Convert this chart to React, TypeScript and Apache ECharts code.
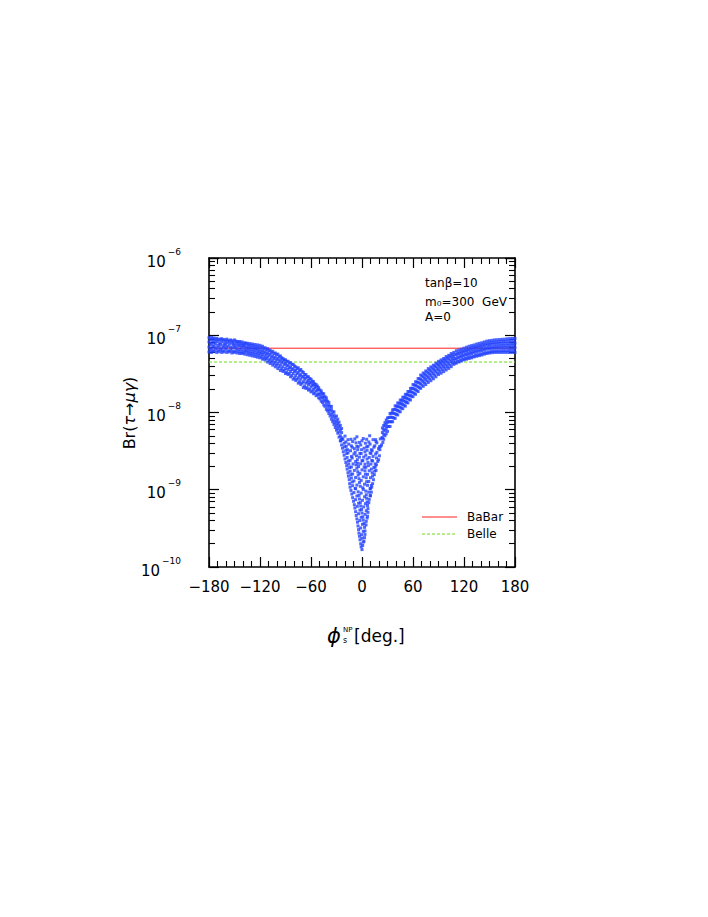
import React, { useEffect, useRef } from 'react';
import * as echarts from 'echarts';

const xTickValues = [-180, -120, -60, 0, 60, 120, 180];
const xTickLabels = ['−180', '−120', '−60', '0', '60', '120', '180'];
const yTickExponents = [-10, -9, -8, -7, -6];
const babarLimit = 6.8e-8;
const belleLimit = 4.5e-8;
const annotations = ['tanβ=10', 'm₀=300  GeV', 'A=0'];
const legendNames = ['BaBar', 'Belle'];

// columns of the left branch: [phi, Br values]
const leftArm: [number, number[]][] = [
  [-180, [6.1e-8, 7.0e-8, 8.2e-8, 9.3e-8]], [-178.5, [6.5e-8, 7.6e-8, 8.8e-8]],
  [-177, [6.0e-8, 6.8e-8, 7.9e-8, 9.4e-8]], [-175.5, [6.3e-8, 7.3e-8, 8.5e-8, 9.0e-8]],
  [-174, [6.2e-8, 7.1e-8, 8.0e-8, 9.2e-8]], [-172.5, [6.6e-8, 7.7e-8, 8.7e-8]],
  [-171, [6.0e-8, 6.9e-8, 8.3e-8, 9.1e-8]], [-169.5, [6.4e-8, 7.4e-8, 8.9e-8]],
  [-168, [6.1e-8, 7.0e-8, 7.9e-8, 8.6e-8]], [-166.5, [6.5e-8, 7.6e-8, 8.9e-8]],
  [-165, [6.0e-8, 6.8e-8, 8.2e-8, 9.0e-8]], [-163.5, [6.3e-8, 7.3e-8, 8.6e-8]],
  [-162, [6.1e-8, 7.0e-8, 7.8e-8, 8.8e-8]], [-160.5, [6.6e-8, 7.5e-8, 8.4e-8]],
  [-159, [6.0e-8, 6.9e-8, 8.0e-8, 8.9e-8]], [-157.5, [6.3e-8, 7.2e-8, 8.6e-8]],
  [-156, [6.1e-8, 7.7e-8, 8.3e-8]], [-154.5, [6.4e-8, 7.0e-8, 8.7e-8]],
  [-153, [5.9e-8, 6.8e-8, 7.9e-8, 8.5e-8]], [-151.5, [6.2e-8, 7.4e-8, 8.2e-8]],
  [-150, [6.0e-8, 6.9e-8, 7.7e-8, 8.7e-8]], [-148.5, [6.3e-8, 7.2e-8, 8.4e-8]],
  [-147, [5.9e-8, 6.7e-8, 7.8e-8, 8.3e-8]], [-145.5, [6.2e-8, 7.3e-8, 8.1e-8]],
  [-144, [5.8e-8, 6.6e-8, 7.5e-8, 8.3e-8]], [-142.5, [6.1e-8, 7.0e-8, 7.9e-8]],
  [-141, [5.8e-8, 6.5e-8, 7.4e-8, 8.2e-8]], [-139.5, [6.0e-8, 7.1e-8, 7.7e-8]],
  [-138, [5.7e-8, 6.4e-8, 7.3e-8, 8.0e-8]], [-136.5, [6.1e-8, 6.8e-8, 7.8e-8]],
  [-135, [5.6e-8, 6.3e-8, 7.1e-8, 7.9e-8]], [-133.5, [5.9e-8, 6.7e-8, 7.5e-8]],
  [-132, [5.5e-8, 6.2e-8, 7.0e-8, 7.8e-8]], [-130.5, [5.8e-8, 6.6e-8, 7.4e-8]],
  [-129, [5.4e-8, 6.1e-8, 6.9e-8, 7.7e-8]], [-127.5, [5.7e-8, 6.5e-8, 7.3e-8]],
  [-126, [5.3e-8, 6.0e-8, 6.8e-8, 7.6e-8]], [-124.5, [5.6e-8, 6.4e-8, 7.1e-8]],
  [-123, [5.2e-8, 5.9e-8, 6.7e-8, 7.5e-8]], [-121.5, [5.5e-8, 6.2e-8, 7.0e-8]],
  [-120, [5.1e-8, 5.8e-8, 6.5e-8, 7.4e-8]], [-118.5, [5.3e-8, 6.0e-8, 6.9e-8]],
  [-117, [4.9e-8, 5.6e-8, 6.3e-8, 7.2e-8]], [-115.5, [5.1e-8, 5.9e-8, 6.7e-8]],
  [-114, [4.8e-8, 5.4e-8, 6.1e-8, 6.9e-8]], [-112.5, [5.0e-8, 5.7e-8, 6.5e-8]],
  [-111, [4.5e-8, 5.2e-8, 5.9e-8, 6.7e-8]], [-109.5, [4.7e-8, 5.5e-8, 6.3e-8]],
  [-108, [4.3e-8, 4.9e-8, 5.7e-8, 6.4e-8]], [-106.5, [4.5e-8, 5.2e-8, 6.0e-8]],
  [-105, [4.1e-8, 4.7e-8, 5.4e-8, 6.2e-8]], [-103.5, [4.3e-8, 5.0e-8, 5.8e-8]],
  [-102, [3.9e-8, 4.5e-8, 5.2e-8, 5.9e-8]], [-100.5, [4.1e-8, 4.8e-8, 5.6e-8]],
  [-99, [3.7e-8, 4.3e-8, 5.0e-8, 5.7e-8]], [-97.5, [3.9e-8, 4.6e-8, 5.3e-8]],
  [-96, [3.5e-8, 4.1e-8, 4.8e-8, 5.4e-8]], [-94.5, [3.7e-8, 4.4e-8, 5.1e-8]],
  [-93, [3.4e-8, 3.9e-8, 4.6e-8, 5.0e-8]], [-91.5, [3.5e-8, 4.2e-8, 4.8e-8]],
  [-90, [3.2e-8, 3.7e-8, 4.3e-8, 4.8e-8]], [-88.5, [3.3e-8, 4.0e-8, 4.6e-8]],
  [-87, [3.1e-8, 3.6e-8, 4.1e-8, 4.6e-8]], [-85.5, [3.2e-8, 3.8e-8, 4.4e-8]],
  [-84, [2.9e-8, 3.4e-8, 3.9e-8, 4.4e-8]], [-82.5, [3.0e-8, 3.6e-8, 4.2e-8]],
  [-81, [2.7e-8, 3.2e-8, 3.7e-8, 4.2e-8]], [-79.5, [2.8e-8, 3.4e-8, 4.0e-8]],
  [-78, [2.6e-8, 3.0e-8, 3.5e-8, 3.9e-8]], [-76.5, [2.7e-8, 3.2e-8, 3.7e-8]],
  [-75, [2.4e-8, 2.8e-8, 3.3e-8, 3.8e-8]], [-73.5, [2.5e-8, 3.0e-8, 3.5e-8]],
  [-72, [2.3e-8, 2.7e-8, 3.1e-8, 3.6e-8]], [-70.5, [2.4e-8, 2.9e-8, 3.4e-8]],
  [-69, [2.1e-8, 2.5e-8, 2.9e-8, 3.3e-8]], [-67.5, [2.2e-8, 2.7e-8, 3.1e-8]],
  [-66, [2.05e-8, 2.4e-8, 2.8e-8, 3.1e-8]], [-64.5, [2.1e-8, 2.5e-8, 2.9e-8]],
  [-63, [1.95e-8, 2.3e-8, 2.6e-8, 2.9e-8]], [-61.5, [2.0e-8, 2.4e-8, 2.75e-8]],
  [-60, [1.85e-8, 2.15e-8, 2.45e-8, 2.7e-8]], [-58.5, [1.9e-8, 2.25e-8, 2.55e-8]],
  [-57, [1.75e-8, 2.0e-8, 2.3e-8, 2.5e-8]], [-55.5, [1.8e-8, 2.1e-8, 2.35e-8]],
  [-54, [1.65e-8, 1.9e-8, 2.15e-8, 2.3e-8]], [-52.5, [1.7e-8, 1.95e-8, 2.2e-8]],
  [-51, [1.55e-8, 1.75e-8, 2.0e-8, 2.1e-8]], [-49.5, [1.5e-8, 1.7e-8, 1.95e-8]],
  [-48, [1.4e-8, 1.6e-8, 1.8e-8, 1.9e-8]], [-46.5, [1.35e-8, 1.55e-8, 1.75e-8]],
  [-45, [1.25e-8, 1.45e-8, 1.6e-8, 1.75e-8]], [-43.5, [1.2e-8, 1.4e-8, 1.6e-8]],
  [-42, [1.1e-8, 1.3e-8, 1.45e-8, 1.55e-8]], [-40.5, [1.05e-8, 1.2e-8, 1.4e-8]],
  [-39, [9.7e-9, 1.1e-8, 1.25e-8, 1.35e-8]], [-37.5, [9.0e-9, 1.05e-8, 1.2e-8]],
  [-36, [8.2e-9, 9.5e-9, 1.1e-8, 1.2e-8]], [-34.5, [7.6e-9, 8.8e-9, 1.02e-8]],
  [-33, [7.0e-9, 8.0e-9, 9.3e-9, 1.02e-8]], [-31.5, [6.4e-9, 7.4e-9, 8.6e-9]],
  [-30, [5.9e-9, 6.8e-9, 7.8e-9, 9.0e-9]], [-28.5, [5.4e-9, 6.2e-9, 7.2e-9, 8.2e-9]],
  [-27, [4.8e-9, 5.6e-9, 6.6e-9, 7.5e-9]], [-25.5, [4.3e-9, 5.0e-9, 6.0e-9, 6.8e-9]],
  [-24, [4.5e-9, 5.5e-9, 6.2e-9]],
];

// columns of the right branch: [phi, Br values]
const rightArm: [number, number[]][] = [
  [24, [4.7e-9, 5.5e-9, 6.3e-9]], [25.5, [4.5e-9, 5.2e-9, 6.0e-9, 6.8e-9]],
  [27, [5.0e-9, 5.8e-9, 6.7e-9, 7.4e-9]], [28.5, [5.3e-9, 6.2e-9, 7.1e-9, 8.0e-9]],
  [30, [5.7e-9, 6.6e-9, 7.5e-9, 8.5e-9]], [31.5, [6.6e-9, 7.6e-9, 8.6e-9]],
  [33, [6.6e-9, 7.6e-9, 8.7e-9, 9.7e-9]], [34.5, [7.6e-9, 8.7e-9, 9.8e-9]],
  [36, [7.6e-9, 8.6e-9, 9.9e-9, 1.08e-8]], [37.5, [8.5e-9, 9.75e-9, 1.095e-8]],
  [39, [8.4e-9, 9.6e-9, 1.1e-8, 1.22e-8]], [40.5, [9.45e-9, 1.08e-8, 1.21e-8]],
  [42, [9.3e-9, 1.06e-8, 1.2e-8, 1.33e-8]], [43.5, [1.04e-8, 1.185e-8, 1.32e-8]],
  [45, [1.02e-8, 1.17e-8, 1.32e-8, 1.45e-8]], [46.5, [1.14e-8, 1.3e-8, 1.445e-8]],
  [48, [1.12e-8, 1.27e-8, 1.44e-8, 1.58e-8]], [49.5, [1.24e-8, 1.41e-8, 1.57e-8]],
  [51, [1.21e-8, 1.38e-8, 1.56e-8, 1.72e-8]], [52.5, [1.35e-8, 1.53e-8, 1.71e-8]],
  [54, [1.33e-8, 1.5e-8, 1.7e-8, 1.87e-8]], [55.5, [1.48e-8, 1.67e-8, 1.87e-8]],
  [57, [1.45e-8, 1.65e-8, 1.86e-8, 2.05e-8]], [58.5, [1.62e-8, 1.84e-8, 2.06e-8]],
  [60, [1.6e-8, 1.8e-8, 2.05e-8, 2.3e-8]], [61.5, [1.77e-8, 2.01e-8, 2.27e-8]],
  [63, [1.72e-8, 1.97e-8, 2.25e-8, 2.5e-8]], [64.5, [1.92e-8, 2.2e-8, 2.48e-8]],
  [66, [1.87e-8, 2.15e-8, 2.45e-8, 2.75e-8]], [67.5, [2.1e-8, 2.41e-8, 2.73e-8]],
  [69, [2.05e-8, 2.35e-8, 2.7e-8, 3.05e-8]], [70.5, [2.27e-8, 2.61e-8, 2.97e-8]],
  [72, [2.18e-8, 2.52e-8, 2.9e-8, 3.25e-8]], [73.5, [2.41e-8, 2.78e-8, 3.16e-8]],
  [75, [2.3e-8, 2.68e-8, 3.05e-8, 3.45e-8]], [76.5, [2.56e-8, 2.95e-8, 3.36e-8]],
  [78, [2.45e-8, 2.85e-8, 3.25e-8, 3.7e-8]], [79.5, [2.72e-8, 3.14e-8, 3.57e-8]],
  [81, [2.58e-8, 3.02e-8, 3.45e-8, 3.9e-8]], [82.5, [2.87e-8, 3.32e-8, 3.77e-8]],
  [84, [2.73e-8, 3.18e-8, 3.65e-8, 4.1e-8]], [85.5, [3.04e-8, 3.51e-8, 3.99e-8]],
  [87, [2.9e-8, 3.38e-8, 3.88e-8, 4.35e-8]], [88.5, [3.23e-8, 3.72e-8, 4.23e-8]],
  [90, [3.1e-8, 3.57e-8, 4.1e-8, 4.6e-8]], [91.5, [3.4e-8, 3.92e-8, 4.44e-8]],
  [93, [3.22e-8, 3.75e-8, 4.3e-8, 4.8e-8]], [94.5, [3.56e-8, 4.11e-8, 4.64e-8]],
  [96, [3.38e-8, 3.92e-8, 4.5e-8, 5.0e-8]], [97.5, [3.73e-8, 4.29e-8, 4.87e-8]],
  [99, [3.55e-8, 4.1e-8, 4.7e-8, 5.3e-8]], [100.5, [3.91e-8, 4.5e-8, 5.1e-8]],
  [102, [3.72e-8, 4.3e-8, 4.95e-8, 5.5e-8]], [103.5, [4.11e-8, 4.74e-8, 5.36e-8]],
  [105, [3.92e-8, 4.55e-8, 5.2e-8, 5.8e-8]], [106.5, [4.34e-8, 4.93e-8, 5.57e-8]],
  [108, [4.2e-8, 4.7e-8, 5.3e-8, 6.0e-8]], [109.5, [4.4e-8, 5.0e-8, 5.7e-8]],
  [111, [4.35e-8, 4.9e-8, 5.6e-8, 6.3e-8]], [112.5, [4.6e-8, 5.2e-8, 5.9e-8]],
  [114, [4.5e-8, 5.1e-8, 5.75e-8, 6.45e-8]], [115.5, [4.75e-8, 5.4e-8, 6.1e-8]],
  [117, [4.65e-8, 5.25e-8, 5.9e-8, 6.6e-8]], [118.5, [4.9e-8, 5.55e-8, 6.25e-8]],
  [120, [4.8e-8, 5.4e-8, 6.1e-8, 6.8e-8]], [121.5, [5.0e-8, 5.7e-8, 6.4e-8]],
  [123, [4.9e-8, 5.55e-8, 6.25e-8, 7.0e-8]], [124.5, [5.15e-8, 5.85e-8, 6.6e-8]],
  [126, [5.0e-8, 5.65e-8, 6.4e-8, 7.2e-8]], [127.5, [5.25e-8, 6.0e-8, 6.8e-8]],
  [129, [5.1e-8, 5.8e-8, 6.55e-8, 7.35e-8]], [130.5, [5.35e-8, 6.15e-8, 6.95e-8]],
  [132, [5.25e-8, 5.95e-8, 6.7e-8, 7.5e-8]], [133.5, [5.5e-8, 6.3e-8, 7.1e-8]],
  [135, [5.35e-8, 6.05e-8, 6.85e-8, 7.7e-8]], [136.5, [5.6e-8, 6.4e-8, 7.25e-8]],
  [138, [5.45e-8, 6.2e-8, 7.0e-8, 7.85e-8]], [139.5, [5.7e-8, 6.55e-8, 7.4e-8]],
  [141, [5.55e-8, 6.3e-8, 7.1e-8, 8.0e-8]], [142.5, [5.85e-8, 6.7e-8, 7.6e-8]],
  [144, [5.7e-8, 6.45e-8, 7.3e-8, 8.2e-8]], [145.5, [5.95e-8, 6.8e-8, 7.75e-8]],
  [147, [5.8e-8, 6.6e-8, 7.45e-8, 8.4e-8]], [148.5, [6.05e-8, 6.95e-8, 7.9e-8]],
  [150, [5.9e-8, 6.7e-8, 7.55e-8, 8.5e-8]], [151.5, [6.15e-8, 7.05e-8, 8.0e-8]],
  [153, [5.95e-8, 6.75e-8, 7.65e-8, 8.6e-8]], [154.5, [6.2e-8, 7.1e-8, 8.1e-8]],
  [156, [6.0e-8, 6.8e-8, 7.7e-8, 8.7e-8]], [157.5, [6.25e-8, 7.15e-8, 8.15e-8]],
  [159, [6.0e-8, 6.8e-8, 7.75e-8, 8.75e-8]], [160.5, [6.25e-8, 7.2e-8, 8.2e-8]],
  [162, [6.0e-8, 6.85e-8, 7.8e-8, 8.8e-8]], [163.5, [6.3e-8, 7.25e-8, 8.3e-8]],
  [165, [6.0e-8, 6.85e-8, 7.8e-8, 8.85e-8]], [166.5, [6.3e-8, 7.3e-8, 8.3e-8]],
  [168, [6.0e-8, 6.85e-8, 7.85e-8, 8.9e-8]], [169.5, [6.3e-8, 7.3e-8, 8.35e-8]],
  [171, [6.0e-8, 6.9e-8, 7.85e-8, 9.0e-8]], [172.5, [6.35e-8, 7.35e-8, 8.4e-8]],
  [174, [6.0e-8, 6.9e-8, 7.9e-8, 9.05e-8]], [175.5, [6.4e-8, 7.4e-8, 8.5e-8]],
  [177, [6.0e-8, 6.9e-8, 7.9e-8, 9.1e-8]], [178.5, [6.4e-8, 7.4e-8, 8.5e-8]],
  [180, [6.0e-8, 6.9e-8, 7.9e-8, 9.1e-8]],
];

// points of the central dip: [phi, Br]
const centralDip: [number, number][] = [
  [-23.5, 4.7e-9], [-20, 4.95e-9], [-13, 4.5e-9], [-6, 4.85e-9], [1.5, 4.6e-9], [9, 5.0e-9], [16, 4.45e-9], [23.5, 4.7e-9],
  [-25, 4.3e-9], [-22.5, 4.5e-9], [-19, 4.15e-9], [-16.5, 4.45e-9], [-11, 4.2e-9], [-8.5, 4.55e-9], [-3, 4.1e-9],
  [0, 4.3e-9], [5.5, 4.5e-9], [8, 4.15e-9], [13, 4.45e-9], [16.5, 4.2e-9], [21.5, 4.55e-9], [24.5, 4.1e-9],
  [-24, 3.8e-9], [-21, 4.0e-9], [-18.5, 3.65e-9], [-15.5, 3.9e-9], [-12.5, 3.7e-9], [-7, 4.05e-9], [-4.5, 3.6e-9],
  [-1.5, 3.8e-9], [4, 4.0e-9], [7, 3.65e-9], [9.5, 3.9e-9], [15, 3.7e-9], [17.5, 4.05e-9], [20.5, 3.6e-9], [23, 3.8e-9],
  [-23, 3.45e-9], [-20.5, 3.6e-9], [-17, 3.3e-9], [-11.5, 3.55e-9], [-9, 3.4e-9], [-6, 3.65e-9], [-0.5, 3.3e-9],
  [2.5, 3.45e-9], [5.5, 3.6e-9], [11, 3.3e-9], [14, 3.55e-9], [19.5, 3.4e-9], [22, 3.65e-9],
  [-22, 3.1e-9], [-19, 3.25e-9], [-16.5, 3.0e-9], [-13.5, 3.2e-9], [-8, 3.05e-9], [-5, 3.3e-9], [-2.5, 2.95e-9],
  [3.5, 3.1e-9], [6, 3.25e-9], [9.5, 3.0e-9], [12, 3.2e-9], [17.5, 3.05e-9], [21, 3.3e-9],
  [-21, 2.8e-9], [-18, 2.95e-9], [-12.5, 2.7e-9], [-9.5, 2.9e-9], [-6.5, 2.75e-9], [-1, 2.95e-9], [2, 2.65e-9],
  [4.5, 2.8e-9], [10.5, 2.95e-9], [13, 2.7e-9], [16, 2.9e-9], [20.5, 2.75e-9],
  [-20, 2.5e-9], [-17.5, 2.62e-9], [-14, 2.4e-9], [-11.5, 2.58e-9], [-5.5, 2.45e-9], [-3, 2.65e-9], [0, 2.38e-9],
  [6, 2.5e-9], [8.5, 2.62e-9], [11.5, 2.4e-9], [17, 2.58e-9], [19.5, 2.45e-9],
  [-19, 2.25e-9], [-16, 2.36e-9], [-10.5, 2.16e-9], [-7.5, 2.32e-9], [-5, 2.2e-9], [1, 2.38e-9], [3.5, 2.14e-9],
  [7, 2.25e-9], [12.5, 2.36e-9], [15.5, 2.16e-9], [18.5, 2.32e-9],
  [-18, 2.05e-9], [-15.5, 2.15e-9], [-12.5, 1.97e-9], [-7, 2.1e-9], [-4, 2.0e-9], [-1.5, 2.17e-9], [4.5, 1.95e-9],
  [7.5, 2.05e-9], [10.5, 2.15e-9], [15.5, 1.97e-9], [17, 2.1e-9],
  [-17.5, 1.85e-9], [-14.5, 1.94e-9], [-9, 1.78e-9], [-6, 1.9e-9], [0, 1.81e-9], [2.5, 1.96e-9], [8.5, 1.76e-9],
  [11, 1.85e-9], [14, 1.94e-9], [16.5, 1.78e-9],
  [-16.5, 1.66e-9], [-14, 1.74e-9], [-11, 1.6e-9], [-5, 1.71e-9], [-2.5, 1.63e-9], [3.5, 1.76e-9], [6.5, 1.58e-9],
  [12, 1.66e-9], [15, 1.74e-9],
  [-16, 1.5e-9], [-13, 1.57e-9], [-7.5, 1.44e-9], [-4.5, 1.55e-9], [1.5, 1.47e-9], [4, 1.59e-9], [10, 1.43e-9],
  [12.5, 1.5e-9], [14.5, 1.57e-9],
  [-15, 1.35e-9], [-12.5, 1.42e-9], [-9.5, 1.3e-9], [-3.5, 1.39e-9], [-1, 1.32e-9], [5, 1.43e-9], [8, 1.28e-9], [13.5, 1.35e-9],
  [-14.5, 1.2e-9], [-11.5, 1.26e-9], [-6, 1.15e-9], [-3, 1.24e-9], [3, 1.18e-9], [5.5, 1.27e-9], [11, 1.14e-9], [12.5, 1.2e-9],
  [-14, 1.08e-9], [-11, 1.13e-9], [-8, 1.04e-9], [-2, 1.11e-9], [1, 1.06e-9], [6.5, 1.14e-9], [9.5, 1.03e-9], [11.5, 1.08e-9],
  [-13, 9.8e-10], [-7.5, 1.03e-9], [-4.5, 9.4e-10], [1.5, 1.01e-9], [4.5, 9.6e-10], [10, 1.04e-9], [11, 9.3e-10],
  [-12, 8.8e-10], [-9.5, 9.2e-10], [-3.5, 8.45e-10], [-1, 9.05e-10], [5, 8.6e-10], [8, 9.3e-10], [10, 8.35e-10],
  [-11, 7.9e-10], [-6, 8.3e-10], [-3, 7.6e-10], [3, 8.1e-10], [5.5, 7.75e-10], [9.5, 8.4e-10],
  [-10, 7.1e-10], [-7.5, 7.45e-10], [-2, 6.8e-10], [0.5, 7.3e-10], [6, 6.95e-10], [8.5, 7.5e-10],
  [-9, 6.4e-10], [-4, 6.7e-10], [-1.5, 6.15e-10], [4, 6.6e-10], [6.5, 6.25e-10], [8, 6.8e-10],
  [-8.3, 5.8e-10], [-5.5, 6.1e-10], [-0.5, 5.55e-10], [2, 6.0e-10], [7, 5.7e-10],
  [-7.5, 5.2e-10], [-2.5, 5.45e-10], [0, 5.0e-10], [5, 5.35e-10], [7, 5.1e-10],
  [-6.8, 4.65e-10], [-4, 4.9e-10], [1, 4.45e-10], [3.5, 4.8e-10], [6.5, 4.55e-10],
  [-6, 4.2e-10], [-1, 4.4e-10], [1.5, 4.05e-10], [6, 4.3e-10],
  [-5.3, 3.8e-10], [-2.5, 4.0e-10], [2.5, 3.65e-10], [5, 3.9e-10],
  [-4.7, 3.4e-10], [0.5, 3.57e-10], [3, 3.26e-10], [4.7, 3.5e-10],
  [-4, 3.05e-10], [-1.5, 3.2e-10], [3.5, 2.93e-10],
  [-3.6, 2.75e-10], [1.5, 2.89e-10], [3.5, 2.64e-10],
  [-3, 2.5e-10], [-0.5, 2.62e-10], [3, 2.4e-10],
  [-2.3, 2.25e-10], [0, 2.36e-10], [2.3, 2.16e-10],
  [-1.5, 2.0e-10], [1.6, 2.1e-10],
  [-1, 1.82e-10], [0.8, 1.9e-10],
  [0, 1.68e-10],
];

const FONT = 'DejaVu Sans';

export default function App() {
  const ref = useRef<HTMLDivElement>(null);
  useEffect(() => {
    const chart = echarts.init(ref.current!, null, { renderer: 'svg' });
    const points: number[][] = [
      ...leftArm.flatMap(([p, bs]) => bs.map((b) => [p, b])),
      ...centralDip.map(([p, b]) => [p, b]),
      ...rightArm.flatMap(([p, bs]) => bs.map((b) => [p, b])),
    ];
    const axisLine = { show: true, onZero: false, lineStyle: { color: '#000', width: 1.6 } };
    const axisTick = { show: true, inside: true, length: 10, lineStyle: { color: '#000', width: 1.2 } };
    const minorX = { show: true, splitNumber: 6, length: 6, lineStyle: { color: '#000', width: 1.1 } };
    const minorY = { show: true, splitNumber: 9, length: 6, lineStyle: { color: '#000', width: 1.1 } };
    const xBase = { type: 'value', min: -180, max: 180, interval: 60, splitLine: { show: false }, axisLine, axisTick, minorTick: minorX };
    const yBase = { type: 'log', logBase: 10, min: 1e-10, max: 1e-6, splitLine: { show: false }, axisLine, axisTick, minorTick: minorY };
    const legendX1 = 422, legendX2 = 457, legendTextX = 467;
    chart.setOption({
      animation: false,
      backgroundColor: '#fff',
      grid: { left: 209, top: 258, width: 306, height: 309, containLabel: false },
      xAxis: [
        {
          ...xBase, position: 'bottom',
          axisLabel: {
            show: true, margin: 12, color: '#000', fontFamily: FONT, fontSize: 15,
            formatter: (v: number) => { const i = xTickValues.indexOf(v); return i >= 0 ? xTickLabels[i] : ''; },
          },
        },
        { ...xBase, position: 'top', axisLabel: { show: false } },
      ],
      yAxis: [
        {
          ...yBase, position: 'left',
          axisLabel: {
            show: true, margin: 28, color: '#000', fontFamily: FONT,
            formatter: (v: number) => {
              const e = Math.round(Math.log10(v));
              if (!yTickExponents.includes(e)) return '';
              return `{b|10}{s|−${-e}}`;
            },
            rich: {
              b: { fontSize: 15, fontFamily: FONT, color: '#000', lineHeight: 22, verticalAlign: 'bottom' },
              s: { fontSize: 9, fontFamily: FONT, color: '#000', lineHeight: 12, verticalAlign: 'top', padding: [0, 0, 0, 2] },
            },
          },
        },
        { ...yBase, position: 'right', axisLabel: { show: false } },
      ],
      series: [
        {
          type: 'line', name: 'BaBar', xAxisIndex: 0, yAxisIndex: 0, z: 1,
          data: [[-180, babarLimit], [180, babarLimit]], showSymbol: false, symbol: 'none',
          lineStyle: { color: '#ff2020', width: 1 },
        },
        {
          type: 'line', name: 'Belle', xAxisIndex: 0, yAxisIndex: 0, z: 1,
          data: [[-180, belleLimit], [180, belleLimit]], showSymbol: false, symbol: 'none',
          lineStyle: { color: '#6fdc1a', width: 1, type: [3, 2] },
        },
        {
          type: 'scatter', xAxisIndex: 0, yAxisIndex: 0, z: 3,
          data: points,
          symbol: 'rect', symbolSize: 3,
          itemStyle: { color: '#2342ff' },
        },
      ],
      graphic: [
        { type: 'text', x: 425, y: 283, style: { text: annotations[0], fontFamily: FONT, fontSize: 12, fill: '#000', textVerticalAlign: 'middle' } },
        { type: 'text', x: 425, y: 302, style: { text: annotations[1], fontFamily: FONT, fontSize: 12, fill: '#000', textVerticalAlign: 'middle' } },
        { type: 'text', x: 425, y: 317, style: { text: annotations[2], fontFamily: FONT, fontSize: 12, fill: '#000', textVerticalAlign: 'middle' } },
        { type: 'line', shape: { x1: legendX1, y1: 517, x2: legendX2, y2: 517 }, style: { stroke: '#ff2020', lineWidth: 1 } },
        { type: 'line', shape: { x1: legendX1, y1: 534, x2: legendX2, y2: 534 }, style: { stroke: '#6fdc1a', lineWidth: 1, lineDash: [3, 2] } },
        { type: 'text', x: legendTextX, y: 517, style: { text: legendNames[0], fontFamily: FONT, fontSize: 12, fill: '#000', textVerticalAlign: 'middle' } },
        { type: 'text', x: legendTextX, y: 534, style: { text: legendNames[1], fontFamily: FONT, fontSize: 12, fill: '#000', textVerticalAlign: 'middle' } },
        {
          type: 'text', x: 129, y: 413, rotation: Math.PI / 2,
          style: {
            text: '{n|Br(}{i|τ}{n|→}{i|μγ}{n|)}',
            textAlign: 'center', textVerticalAlign: 'middle',
            rich: {
              n: { fontFamily: FONT, fontSize: 16, fill: '#000', color: '#000' },
              i: { fontFamily: FONT, fontSize: 16, fontStyle: 'italic', fill: '#000', color: '#000' },
            },
          },
        },
        { type: 'text', x: 334, y: 636, style: { text: 'ϕ', fontFamily: FONT, fontSize: 21, fontStyle: 'italic', fill: '#000', textAlign: 'center', textVerticalAlign: 'middle' } },
        { type: 'text', x: 343, y: 630, style: { text: 'NP', fontFamily: FONT, fontSize: 7, fill: '#000', textVerticalAlign: 'middle' } },
        { type: 'text', x: 343, y: 640, style: { text: 's', fontFamily: FONT, fontSize: 8, fill: '#000', textVerticalAlign: 'middle' } },
        { type: 'text', x: 354, y: 636, style: { text: '[deg.]', fontFamily: FONT, fontSize: 17, fill: '#000', textVerticalAlign: 'middle' } },
      ],
    });
    return () => chart.dispose();
  }, []);
  return <div ref={ref} style={{ position: 'absolute', left: 0, top: 0, width: 708, height: 917 }} />;
}
